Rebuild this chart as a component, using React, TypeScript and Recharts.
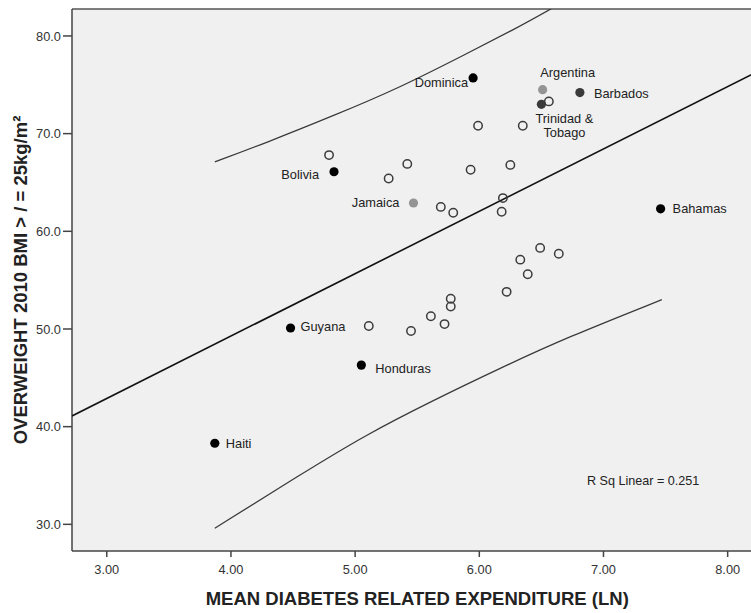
import React from "react";
import {
  ScatterChart,
  Scatter,
  XAxis,
  YAxis,
  CartesianGrid,
  ReferenceLine,
  Label,
} from "recharts";

const FONT = '"Liberation Sans", Arial, sans-serif';

// labelled countries
const labeledNames = [
  "Dominica",
  "Argentina",
  "Trinidad & Tobago",
  "Barbados",
  "Bolivia",
  "Jamaica",
  "Bahamas",
  "Guyana",
  "Honduras",
  "Haiti",
];
const labeledX = [5.95, 6.51, 6.5, 6.81, 4.83, 5.47, 7.46, 4.48, 5.05, 3.87];
const labeledY = [75.7, 74.5, 73.0, 74.2, 66.1, 62.9, 62.3, 50.1, 46.3, 38.3];
const labeledGroup = ["black", "light", "dark", "dark", "black", "light", "black", "black", "black", "black"];

// unlabelled countries (open circles)
const openX = [6.56, 5.99, 6.35, 4.79, 5.42, 5.27, 5.93, 6.25, 5.69, 5.79, 6.19, 6.18, 6.49, 6.64, 6.33, 6.39, 6.22, 5.11, 5.45, 5.61, 5.72, 5.77, 5.77];
const openY = [73.3, 70.8, 70.8, 67.8, 66.9, 65.4, 66.3, 66.8, 62.5, 61.9, 63.4, 62.0, 58.3, 57.7, 57.1, 55.6, 53.8, 50.3, 49.8, 51.3, 50.5, 53.1, 52.3];

// fit line and 95% prediction interval
const fitX = [2.72, 8.2];
const fitY = [41.1, 76.1];
const upperX = [3.87, 4.29, 4.82, 5.36, 5.9, 6.3, 6.54, 7.0, 7.47];
const upperY = [67.1, 69.1, 71.8, 74.7, 78.2, 80.8, 82.5, 85.8, 89.8];
const lowerX = [3.87, 4.56, 5.09, 5.63, 6.17, 6.7, 7.47];
const lowerY = [29.6, 35.1, 39.2, 42.7, 46.0, 49.1, 53.0];

const xTicks = [3, 4, 5, 6, 7, 8];
const yTicks = [30, 40, 50, 60, 70, 80];
const xDomain = [2.72, 8.2];
const yDomain = [27.27, 82.76];

const groupColor: Record<string, string> = {
  black: "#000000",
  dark: "#3a3a3a",
  light: "#949494",
};

const labelPlace: Record<string, { dx: number; dy: number; anchor: string; lines?: string[] }> = {
  Dominica: { dx: -5, dy: 9, anchor: "end" },
  Argentina: { dx: 25, dy: -13, anchor: "middle" },
  "Trinidad & Tobago": { dx: 23, dy: 19, anchor: "middle", lines: ["Trinidad &", "Tobago"] },
  Barbados: { dx: 14, dy: 5, anchor: "start" },
  Bolivia: { dx: -15, dy: 7, anchor: "end" },
  Jamaica: { dx: -14, dy: 4, anchor: "end" },
  Bahamas: { dx: 12, dy: 4.5, anchor: "start" },
  Guyana: { dx: 10, dy: 3, anchor: "start" },
  Honduras: { dx: 14, dy: 7.5, anchor: "start" },
  Haiti: { dx: 11, dy: 5, anchor: "start" },
};

const zip = (xs: number[], ys: number[]) => xs.map((x, i) => ({ x, y: ys[i] }));

const labeledData = labeledNames.map((name, i) => ({
  name,
  x: labeledX[i],
  y: labeledY[i],
  group: labeledGroup[i],
}));
const openData = zip(openX, openY);
const fitData = zip(fitX, fitY);
const upperData = zip(upperX, upperY);
const lowerData = zip(lowerX, lowerY);

const OpenDot = (props: any) => (
  <circle cx={props.cx} cy={props.cy} r={4.2} fill="none" stroke="#3c3c3c" strokeWidth={1.5} />
);

const LabeledDot = (props: any) => {
  const { cx, cy, payload } = props;
  const place = labelPlace[payload.name];
  const lines = place.lines || [payload.name];
  return (
    <g>
      <circle cx={cx} cy={cy} r={4.6} fill={groupColor[payload.group]} />
      {lines.map((t: string, i: number) => (
        <text
          key={t}
          x={cx + place.dx}
          y={cy + place.dy + i * 14}
          textAnchor={place.anchor as any}
          fontSize={12.8}
          fontFamily={FONT}
          fill="#222"
        >
          {t}
        </text>
      ))}
    </g>
  );
};

const NoDot = () => <g />;

export default function App() {
  return (
    <div style={{ position: "absolute", left: 0, top: 0, width: 751, height: 613, overflow: "hidden", background: "#fff" }}>
      <ScatterChart width={760} height={613} margin={{ top: 9, right: 7.5, bottom: 0, left: 0 }}>
        <CartesianGrid horizontal={false} vertical={false} fill="#f0f0f0" />
        <XAxis
          type="number"
          dataKey="x"
          domain={xDomain}
          ticks={xTicks}
          allowDataOverflow
          height={62}
          tickFormatter={(v: number) => v.toFixed(2)}
          tick={{ fontSize: 12.8, fill: "#333", fontFamily: FONT }}
          tickSize={6}
          tickMargin={8}
          stroke="#444"
          strokeWidth={1.5}
        >
          <Label
            value="MEAN DIABETES RELATED EXPENDITURE (LN)"
            position="insideBottom"
            offset={8}
            dx={5}
            style={{ fontSize: 18.5, fontWeight: "bold", fontFamily: FONT, fill: "#222" }}
          />
        </XAxis>
        <YAxis
          type="number"
          dataKey="y"
          domain={yDomain}
          ticks={yTicks}
          allowDataOverflow
          width={72}
          tickFormatter={(v: number) => v.toFixed(1)}
          tick={{ fontSize: 12.8, fill: "#333", fontFamily: FONT }}
          tickSize={9}
          tickMargin={2}
          stroke="#444"
          strokeWidth={1.5}
        >
          <Label
            value="OVERWEIGHT 2010 BMI > / = 25kg/m²"
            angle={-90}
            position="insideLeft"
            offset={20}
            style={{ fontSize: 18.5, fontWeight: "bold", fontFamily: FONT, fill: "#222", textAnchor: "middle" }}
          />
        </YAxis>
        <ReferenceLine y={yDomain[1]} stroke="#555" strokeWidth={1.5} />
        <Scatter
          data={upperData}
          line={{ stroke: "#3a3a3a", strokeWidth: 1.3 }}
          lineJointType="basis"
          shape={NoDot}
          isAnimationActive={false}
        />
        <Scatter
          data={lowerData}
          line={{ stroke: "#3a3a3a", strokeWidth: 1.3 }}
          lineJointType="basis"
          shape={NoDot}
          isAnimationActive={false}
        />
        <Scatter
          data={fitData}
          line={{ stroke: "#111", strokeWidth: 1.6 }}
          shape={NoDot}
          isAnimationActive={false}
        />
        <Scatter data={openData} shape={OpenDot} isAnimationActive={false} />
        <Scatter data={labeledData} shape={LabeledDot} isAnimationActive={false} />
      </ScatterChart>
      <svg width={751} height={613} style={{ position: "absolute", left: 0, top: 0, pointerEvents: "none" }}>
        <text x={587} y={485} fontSize={12.6} fontFamily={FONT} fill="#222">
          R Sq Linear = 0.251
        </text>
      </svg>
    </div>
  );
}
